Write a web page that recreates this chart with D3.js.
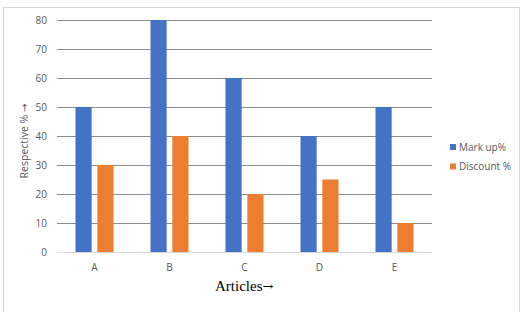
<!DOCTYPE html>
<html>
<head>
<meta charset="utf-8">
<script src="https://cdn.jsdelivr.net/npm/d3@7"></script>
<style>
  body { margin: 0; background: #fff; }
  svg { font-family: "Open Sans", "Liberation Sans", sans-serif; }
</style>
</head>
<body>
<script>
var articles = ["A", "B", "C", "D", "E"];
var markUp = [50, 80, 60, 40, 50];
var discount = [30, 40, 20, 25, 10];
var seriesNames = ["Mark up%", "Discount %"];
var yTicks = [0, 10, 20, 30, 40, 50, 60, 70, 80];
var colors = ["#4472c4", "#ed7d31"];

var margin = {top: 20, right: 91, bottom: 60, left: 57},
    width = 523 - margin.left - margin.right,
    height = 312 - margin.top - margin.bottom;

var svg = d3.select("body").append("svg")
    .attr("width", 523)
    .attr("height", 312);

// chart border
svg.append("rect")
    .attr("x", 3.5).attr("y", 7.5)
    .attr("width", 516).attr("height", 310)
    .attr("fill", "none")
    .attr("stroke", "#d9d9d9");

var g = svg.append("g").attr("transform", "translate(" + margin.left + "," + margin.top + ")");

var x = d3.scaleBand().domain(articles).range([0, width]);
var x1 = d3.scaleBand().domain(seriesNames).range([18.5, x.bandwidth() - 18.5]).paddingInner(0.26);
var y = d3.scaleLinear().domain([0, 80]).range([232, 0]);

// gridlines
g.selectAll(".grid")
    .data(yTicks.slice(1))
    .enter().append("line")
    .attr("x1", 0).attr("x2", width)
    .attr("y1", function(d) { return Math.round(y(d)) + 0.5; })
    .attr("y2", function(d) { return Math.round(y(d)) + 0.5; })
    .attr("stroke", "#8c8c8c");

// y tick labels
g.selectAll(".ylab")
    .data(yTicks)
    .enter().append("text")
    .attr("x", -10)
    .attr("y", function(d) { return y(d); })
    .attr("dy", "0.35em")
    .attr("text-anchor", "end")
    .attr("fill", "#595959")
    .style("font-size", "10px")
    .text(function(d) { return d; });

var data = articles.map(function(a, i) {
  return {id: a, values: [markUp[i], discount[i]]};
});

var grp = g.selectAll(".cat")
    .data(data)
    .enter().append("g")
    .attr("transform", function(d) { return "translate(" + x(d.id) + ",0)"; });

grp.selectAll("rect")
    .data(function(d) { return d.values.map(function(v, j) { return {s: seriesNames[j], v: v, j: j}; }); })
    .enter().append("rect")
    .attr("x", function(d) { return x1(d.s); })
    .attr("width", x1.bandwidth())
    .attr("y", function(d) { return y(d.v); })
    .attr("height", function(d) { return y(0) - y(d.v); })
    .attr("fill", function(d) { return colors[d.j]; });

// baseline
g.append("line")
    .attr("x1", 0).attr("x2", width)
    .attr("y1", y(0) + 0.5).attr("y2", y(0) + 0.5)
    .attr("stroke", "#d9d9d9");

// category labels
g.selectAll(".xlab")
    .data(articles)
    .enter().append("text")
    .attr("x", function(d) { return x(d) + x.bandwidth() / 2; })
    .attr("y", y(0) + 15)
    .attr("dy", "0.35em")
    .attr("text-anchor", "middle")
    .attr("fill", "#595959")
    .style("font-size", "10px")
    .text(function(d) { return d; });

// axis titles
var xt = svg.append("text")
    .attr("x", 215)
    .attr("y", 291)
    .attr("fill", "#000")
    .style("font-family", "'Liberation Serif', 'DejaVu Serif', serif")
    .style("font-size", "15px");
xt.append("tspan").text("Articles");
xt.append("tspan").style("font-family", "'DejaVu Serif', serif").style("font-size", "13px").text("\u2192");

var yt = svg.append("text")
    .attr("transform", "translate(28,141) rotate(-90)")
    .attr("text-anchor", "middle")
    .attr("fill", "#595959")
    .style("font-size", "10.5px");
yt.append("tspan").text("Respective % ");
yt.append("tspan").style("font-family", "'DejaVu Sans', sans-serif").style("font-size", "10px").text("\u2192");

// legend
var legend = svg.selectAll(".legend")
    .data(seriesNames)
    .enter().append("g")
    .attr("transform", function(d, i) { return "translate(450," + (144 + i * 19.5) + ")"; });

legend.append("rect")
    .attr("width", 6).attr("height", 6)
    .attr("fill", function(d, i) { return colors[i]; });

legend.append("text")
    .attr("x", 9).attr("y", 3)
    .attr("dy", "0.35em")
    .attr("fill", "#595959")
    .style("font-size", "10px")
    .text(function(d) { return d; });
</script>
</body>
</html>
